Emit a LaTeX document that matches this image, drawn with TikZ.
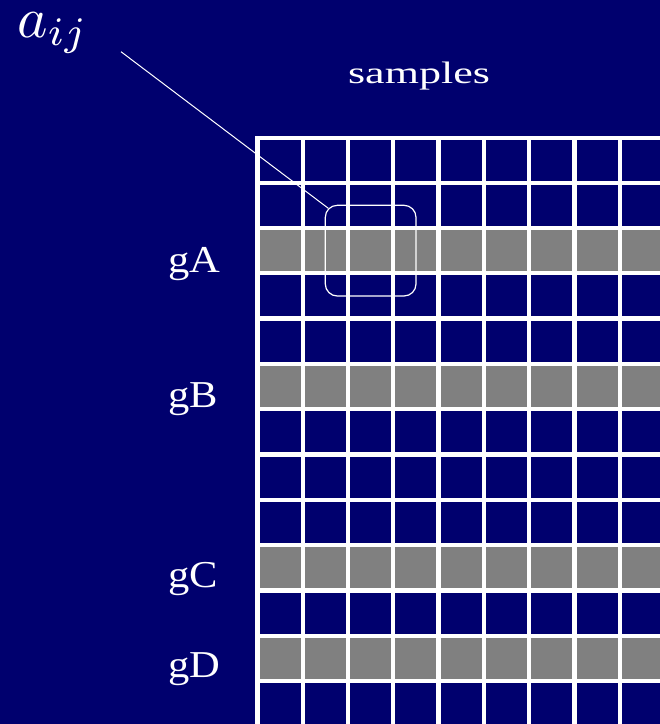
\documentclass[tikz,border=0pt]{standalone}
\usepackage{fontspec}
\setmainfont{Liberation Serif}
\usetikzlibrary{calc}
\definecolor{navy}{RGB}{0,0,110}
\definecolor{rowgray}{RGB}{128,128,128}
\begin{document}
\begin{tikzpicture}[x=1pt,y=-1pt,
  cellbox/.style={minimum size=41pt, inner sep=0pt, anchor=north west, draw=none},
  glabel/.style={text=white, inner sep=0pt, anchor=base west},
  selbox/.style={draw=white, line width=1.2pt, rounded corners=12pt, minimum width=90.7pt, minimum height=90.7pt, inner sep=0pt},
  leader/.style={draw=white, line width=1pt}]
\useasboundingbox (0,0) rectangle (660,724);
\clip (0,0) rectangle (660,724);
\fill[navy] (0,0) rectangle (660,724);
% white grid background
\node[fill=white, anchor=north west, minimum width=420pt, minimum height=600pt, inner sep=0pt] (grid) at (255,135.5) {};
% cells
\foreach \r/\clr in {0/navy,1/navy,2/rowgray,3/navy,4/navy,5/rowgray,6/navy,7/navy,8/navy,9/rowgray,10/navy,11/rowgray,12/navy}{
  \foreach \c in {0,...,8}{
    \node[cellbox, fill=\clr] (c-\r-\c) at ({259.3+45.33*\c},{139.3+45.33*\r}) {};
  }
}
% labels
\node[text=white, inner sep=0pt, anchor=base] (samples) at (419,83.3)
  {\scalebox{1.42}[1]{\fontsize{31}{31}\selectfont samples}};
\foreach \n/\y in {gA/272.3, gB/407.3, gC/587.3, gD/677.3}{
  \node[glabel] (\n) at (168,\y) {\scalebox{1.12}[1]{\fontsize{38}{38}\selectfont \n}};
}
% a_ij label and selection
\node[text=white, inner sep=0pt, anchor=base west] (aij) at (17,37.3) {\scalebox{5.77}{$a_{ij}$}};
\node[selbox] (sel) at (370.65,250.65) {};
\coordinate (lead) at (121,51.7);
\draw[leader] (lead) -- ($(sel.north west)!0.077!(sel.center)$);
\end{tikzpicture}
\end{document}
